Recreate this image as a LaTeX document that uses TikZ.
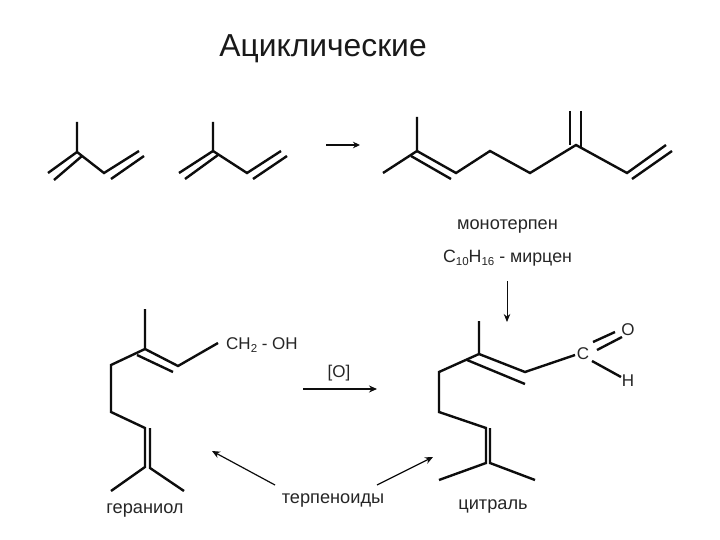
\documentclass[tikz,border=0pt]{standalone}
\usepackage{fontspec}
\setmainfont{Liberation Sans}
\usetikzlibrary{arrows.meta}
\newcommand{\lowsub}[1]{\raisebox{-3.5pt}{\fontsize{11.5}{12}\selectfont #1}}
\tikzset{
  bond/.style={line width=2.4pt,line join=miter,black!95},
  rxn/.style={line width=1.2pt,-{Stealth[length=8pt,width=7pt]},black!95},
  rxnthin/.style={line width=0.9pt,-{Stealth[length=8pt,width=6.5pt]},black!95},
  rxnthick/.style={line width=1.7pt,-{Stealth[length=7pt,width=6.5pt]},black!95},
  lbl/.style={inner sep=0pt,font=\fontsize{18.2}{20}\selectfont,text=black!85},
  atom/.style={inner sep=0pt,font=\fontsize{17}{19}\selectfont,text=black!85}
}
\begin{document}
\begin{tikzpicture}[x=1pt,y=-1pt]
\useasboundingbox (0,0) rectangle (720,540);
\fill[white] (0,0) rectangle (720,540);
% title
\node[inner sep=0pt,font=\fontsize{31.8}{34}\selectfont,text=black!90] (title) at (323,49) {Ациклические};
% isoprene 1
\draw[bond] (77,122) -- (77,152) -- (48,173);
\draw[bond] (82,156) -- (54,180);
\draw[bond] (77,152) -- (104,173) -- (139,151);
\draw[bond] (111,179) -- (144,156);
% isoprene 2
\draw[bond] (213,122) -- (213,151) -- (179,173);
\draw[bond] (218,155) -- (185,179);
\draw[bond] (213,151) -- (247,173) -- (281,151);
\draw[bond] (253,179) -- (287,156);
% arrow
\coordinate (a1s) at (326,145); \coordinate (a1e) at (360,145);
\draw[rxnthick] (a1s) -- (a1e);
% myrcene
\draw[bond] (417,117) -- (417,151) -- (383,173);
\draw[bond] (417,151) -- (456,173) -- (490,151) -- (530,173) -- (576,145) -- (627,173) -- (666,145);
\draw[bond] (411,156) -- (451,179);
\draw[bond] (632,179) -- (672,151);
\draw[bond] (570,111) -- (570,145);
\draw[bond] (581,111) -- (581,147);
% labels
\node[lbl] (mono) at (507.5,226) {монотерпен};
\node[lbl,font=\fontsize{17.8}{20}\selectfont] (myr) at (507.5,258) {C\lowsub{10}H\lowsub{16} - мирцен};
\coordinate (a2e) at (507,322);
\draw[rxnthin] (507,281) -- (a2e);
% geraniol
\draw[bond] (145,309) -- (145,349) -- (111,365) -- (111,412) -- (145,428) -- (145,467) -- (111,491);
\draw[bond] (145,349) -- (178,366) -- (218,343);
\draw[bond] (137,355) -- (173,372);
\draw[bond] (150,428) -- (150,468) -- (184,491);
\node[atom,anchor=west] (ch) at (226,345) {CH\lowsub{2} - OH};
\node[lbl] (ger) at (145,510) {гераниол};
% oxidation
\node[atom] (ox) at (339,373) {[O]};
\coordinate (a3s) at (303,389); \coordinate (a3e) at (377,389);
\draw[rxn] (a3s) -- (a3e);
% terpenoids
\node[lbl] (terp) at (333,500) {терпеноиды};
\coordinate (a4s) at (275,485); \coordinate (a4e) at (212,451);
\coordinate (a5s) at (377,485); \coordinate (a5e) at (433,457);
\draw[rxn] (a4s) -- (a4e);
\draw[rxn] (a5s) -- (a5e);
% citral
\draw[bond] (479,321) -- (479,354) -- (439,372) -- (439,412) -- (486,428) -- (486,463) -- (439,480);
\draw[bond] (479,354) -- (525,372) -- (575,355);
\draw[bond] (467,360) -- (525,384);
\draw[bond] (490,428) -- (490,463) -- (535,480);
\node[atom] (c) at (583,354) {C};
\node[atom] (o) at (628,330) {O};
\node[atom] (h) at (628,381) {H};
\draw[bond] (593,342) -- (615,332);
\draw[bond] (597,350) -- (622,337);
\draw[bond] (592,361) -- (621,377);
\node[lbl] (cit) at (493,506) {цитраль};
\end{tikzpicture}
\end{document}
